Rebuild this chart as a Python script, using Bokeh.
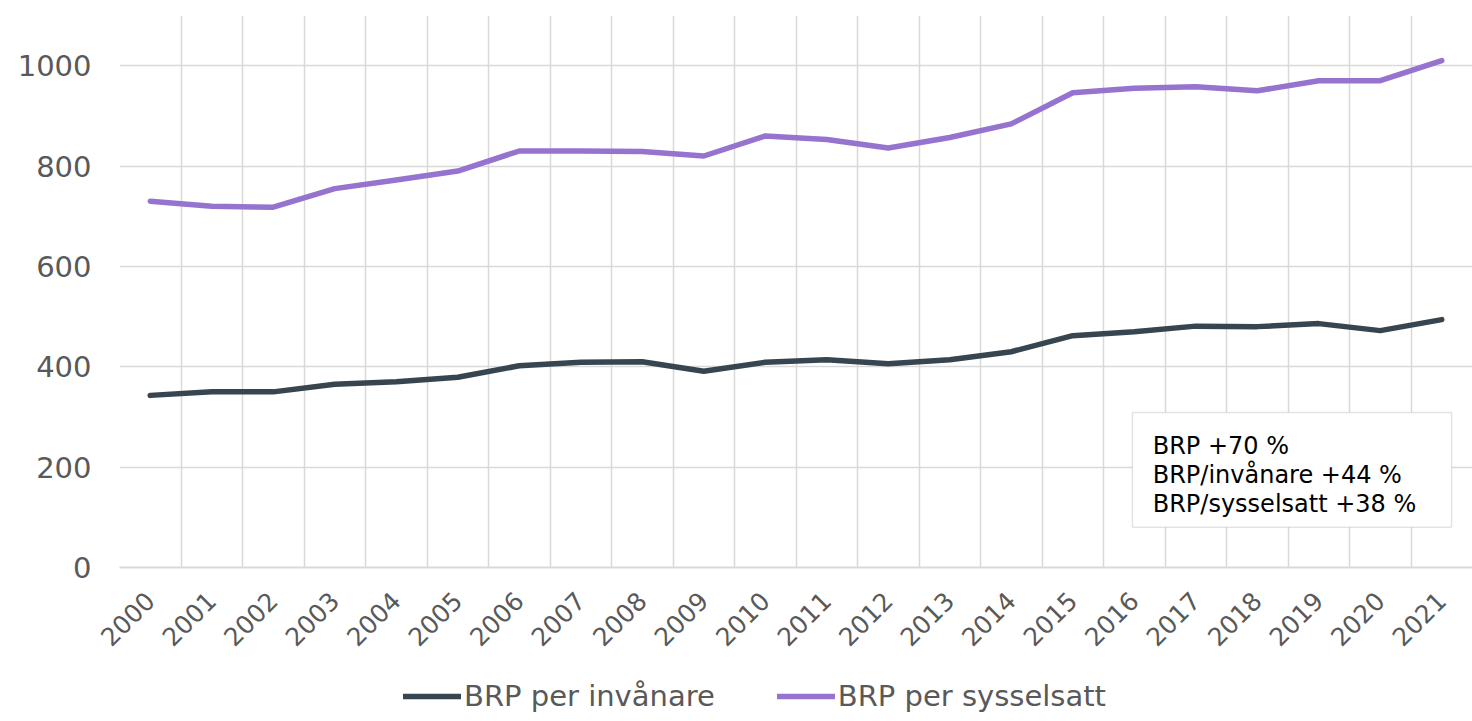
from bokeh.plotting import figure
from bokeh.layouts import column
from bokeh.models import FixedTicker, Legend, LegendItem, Label, BoxAnnotation, Range1d
from bokeh.embed import file_html
from bokeh.resources import INLINE

years = [str(y) for y in range(2000, 2022)]
per_invanare = [343, 350, 350, 365, 370, 379, 402, 409, 410, 391, 409, 414, 406, 414, 430,
                462, 470, 481, 480, 486, 472, 494]
per_sysselsatt = [730, 720, 718, 755, 772, 790, 830, 830, 829, 820, 860, 853, 836, 857, 884,
                  946, 955, 958, 950, 970, 970, 1010]
y_ticks = [0, 200, 400, 600, 800, 1000]
notes = ["BRP +70 %", "BRP/invånare +44 %", "BRP/sysselsatt +38 %"]
series_names = ["BRP per invånare", "BRP per sysselsatt"]
colors = ["#36454f", "#9673cf"]

FONT = "DejaVu Sans"
xs = [i + 0.5 for i in range(len(years))]

p = figure(width=1472, height=672, output_backend="svg", toolbar_location=None,
           x_range=Range1d(0, len(years)), y_range=Range1d(0, 1100),
           min_border_left=119, min_border_right=0, min_border_top=15, min_border_bottom=105)
p.outline_line_color = None

p.line(xs, per_invanare, line_color=colors[0], line_width=5.5, line_cap="round", line_join="round")
p.line(xs, per_sysselsatt, line_color=colors[1], line_width=5.5, line_cap="round", line_join="round")

p.xaxis.ticker = FixedTicker(ticks=xs)
p.xaxis.major_label_overrides = {x: y for x, y in zip(xs, years)}
p.xaxis.major_label_orientation = 0.785398
p.xaxis.major_tick_line_color = None
p.xaxis.minor_tick_line_color = None
p.xaxis.axis_line_color = "#d9d9d9"
p.xaxis.axis_line_width = 2
p.xaxis.major_label_text_font = FONT
p.xaxis.major_label_text_font_size = "25px"
p.xaxis.major_label_text_color = "#595959"
p.xaxis.major_label_standoff = 23

p.yaxis.ticker = FixedTicker(ticks=y_ticks)
p.yaxis.major_tick_line_color = None
p.yaxis.minor_tick_line_color = None
p.yaxis.axis_line_color = None
p.yaxis.major_label_text_font = FONT
p.yaxis.major_label_text_font_size = "29px"
p.yaxis.major_label_text_color = "#595959"
p.yaxis.major_label_standoff = 22

p.xgrid.ticker = FixedTicker(ticks=list(range(len(years) + 1)))
p.xgrid.grid_line_color = "#d9d9d9"
p.xgrid.grid_line_width = 1.5
p.ygrid.grid_line_color = "#d9d9d9"
p.ygrid.grid_line_width = 1.5

box = BoxAnnotation(left=16.47, right=21.66, bottom=80, top=309,
                    fill_color="white", fill_alpha=1.0,
                    line_color="#a6a6a6", line_width=1.5, level="overlay")
p.add_layout(box)
for t, yv in zip(notes, [243, 185, 127.5]):
    p.add_layout(Label(x=16.8, y=yv, text=t, text_font=FONT, text_font_size="24px",
                       text_color="black", text_baseline="alphabetic", level="overlay"))

# legend strip below the chart
lg = figure(width=1472, height=48, output_backend="svg", toolbar_location=None,
            x_range=Range1d(0, len(years)), y_range=Range1d(2000, 3000),
            min_border_left=0, min_border_right=0, min_border_top=0, min_border_bottom=0)
lg.axis.visible = False
lg.grid.visible = False
lg.outline_line_color = None
rl1 = lg.line(xs, per_invanare, line_color=colors[0], line_width=5.5, line_cap="round")
rl2 = lg.line(xs, per_sysselsatt, line_color=colors[1], line_width=5.5, line_cap="round")

legend = Legend(items=[LegendItem(label=series_names[0], renderers=[rl1]),
                       LegendItem(label=series_names[1], renderers=[rl2])],
                orientation="horizontal", location=(284, 7),
                label_text_font=FONT, label_text_font_size="29px",
                label_text_color="#595959", glyph_width=58, glyph_height=20,
                label_height=20, label_standoff=3, spacing=62, padding=0, margin=0,
                border_line_color=None, background_fill_alpha=0)
lg.add_layout(legend, "center")

layout = column(p, lg, spacing=0)
open("out.html", "w").write(file_html(layout, INLINE))
